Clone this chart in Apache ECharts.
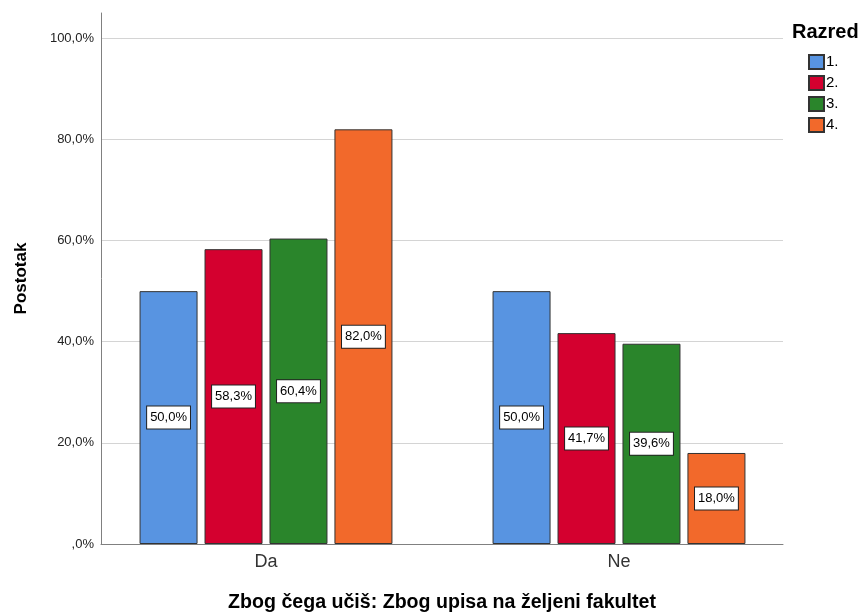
<!DOCTYPE html>
<html>
<head>
<meta charset="utf-8">
<script src="https://cdn.jsdelivr.net/npm/echarts@6/dist/echarts.min.js"></script>
<style>html,body{margin:0;padding:0;background:#fff;}#c{width:861px;height:612px;}</style>
</head>
<body>
<div id="c"></div>
<script>
const categories = ['Da', 'Ne'];
const seriesNames = ['1.', '2.', '3.', '4.'];
const values1 = [50.0, 50.0];
const values2 = [58.3, 41.7];
const values3 = [60.4, 39.6];
const values4 = [82.0, 18.0];
const yTicks = [0, 20, 40, 60, 80, 100];
const colors = ['#5894e1', '#d4002f', '#2a852b', '#f2692b'];
const allValues = [values1, values2, values3, values4];

function pct(v) {
  if (v === 0) return ',0%';
  return v.toFixed(1).replace('.', ',') + '%';
}

const chart = echarts.init(document.getElementById('c'));
const font = 'Liberation Sans, Arial, sans-serif';
chart.setOption({
  animation: false,
  textStyle: { fontFamily: font },
  title: {
    text: 'Razred', left: 792, top: 22, padding: 0,
    textStyle: { fontSize: 20, fontWeight: 'bold', color: '#000', fontFamily: font }
  },
  legend: {
    orient: 'vertical', left: 808, top: 54, padding: 0,
    itemWidth: 15, itemHeight: 14, itemGap: 5,
    icon: 'rect',
    data: seriesNames,
    textStyle: { fontSize: 15, color: '#000', padding: [0, 0, 0, -3], fontFamily: font }
  },
  grid: [
    { left: 101, right: 78, top: 13, bottom: 68, outerBoundsMode: 'none', containLabel: false },
    { left: 89.5, right: 65.5, top: 13, bottom: 68, outerBoundsMode: 'none', containLabel: false }
  ],
  xAxis: [
    {
      type: 'category', gridIndex: 0, data: categories,
      axisLine: { lineStyle: { color: '#808080', width: 1 } },
      axisTick: { show: false }, axisLabel: { show: false },
      name: 'Zbog čega učiš: Zbog upisa na željeni fakultet',
      nameLocation: 'middle', nameGap: 49,
      nameTextStyle: { fontSize: 19.6, fontWeight: 'bold', color: '#000', fontFamily: font }
    },
    {
      type: 'category', gridIndex: 1, data: categories,
      axisLine: { show: false }, axisTick: { show: false },
      axisLabel: { fontSize: 18, color: '#333', margin: 9, fontFamily: font }
    }
  ],
  yAxis: [
    {
      type: 'value', gridIndex: 0, min: 0, max: 105, interval: 20,
      axisLine: { show: true, lineStyle: { color: '#808080', width: 1 } },
      axisTick: { show: false },
      axisLabel: {
        fontSize: 13, color: '#222', margin: 7, showMaxLabel: false, fontFamily: font,
        formatter: v => (yTicks.indexOf(v) >= 0 ? pct(v) : '')
      },
      splitLine: { show: true, showMaxLine: false, lineStyle: { color: '#d4d4d4', width: 1 } },
      name: 'Postotak', nameLocation: 'middle', nameGap: 71,
      nameTextStyle: { fontSize: 17, fontWeight: 'bold', color: '#000', fontFamily: font }
    },
    { type: 'value', gridIndex: 1, min: 0, max: 105, interval: 20, show: false, splitLine: { show: false } }
  ],
  series: allValues.map((vals, i) => ({
    name: seriesNames[i],
    type: 'bar',
    xAxisIndex: 1, yAxisIndex: 1,
    data: vals,
    barWidth: 58,
    barGap: '12%',
    itemStyle: { color: colors[i], borderColor: '#333', borderWidth: 1 },
    label: {
      show: true, position: 'inside',
      formatter: p => pct(p.value),
      fontSize: 13, color: '#000', fontFamily: font,
      backgroundColor: '#fff', borderColor: '#222', borderWidth: 1,
      padding: [5, 3, 4, 3]
    }
  }))
});
</script>
</body>
</html>
